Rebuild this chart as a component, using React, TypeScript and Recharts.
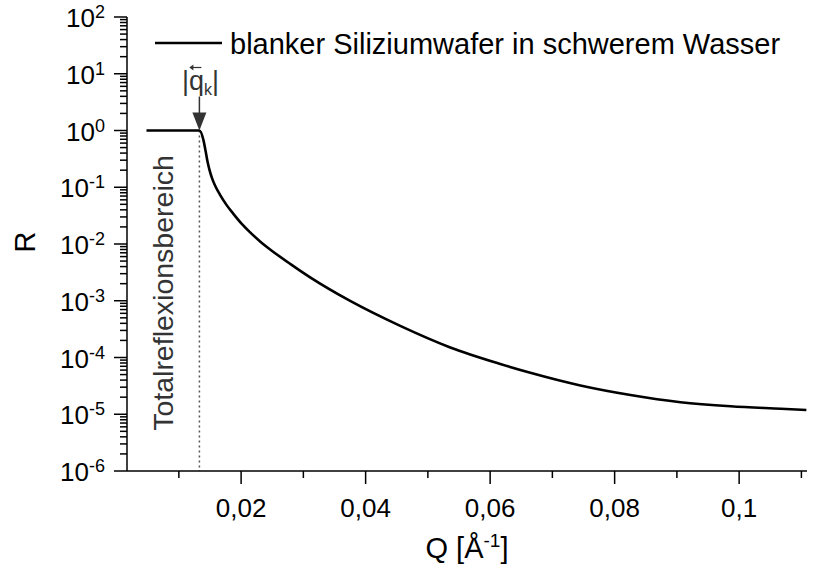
import React from 'react'
import { LineChart, Line, XAxis, YAxis, ReferenceLine, ReferenceDot, Customized } from 'recharts'

// reflectivity curve
const qValues = [
  0.0048, 0.0133, 0.01394, 0.01432, 0.01461, 0.01494, 0.01534, 0.01587, 0.01662, 0.01759,
  0.01876, 0.02011, 0.02145, 0.02305, 0.02466, 0.02788, 0.03109, 0.03752, 0.04556, 0.0536,
  0.06164, 0.06646, 0.0745, 0.08254, 0.09058, 0.09862, 0.1067, 0.1108,
]
const rValues = [
  1, 1, 0.685, 0.421, 0.281, 0.199, 0.1436, 0.1038, 0.0734, 0.0499,
  0.034, 0.0226, 0.016, 0.0111, 0.00803, 0.00446, 0.00258, 9.91e-4, 3.6e-4, 1.5e-4,
  7.67e-5, 5.37e-5, 3.21e-5, 2.18e-5, 1.63e-5, 1.38e-5, 1.25e-5, 1.19e-5,
]

const xMajorTicks = [0.02, 0.04, 0.06, 0.08, 0.1]
const xTickLabels = ['0,02', '0,04', '0,06', '0,08', '0,1']
const xMinorTicks = [0.01, 0.03, 0.05, 0.07, 0.09, 0.11]
const xDomain = [0.00167, 0.1109]

const yExponents = ['-6', '-5', '-4', '-3', '-2', '-1', '0', '1', '2']
const yMinorFactors = [2, 3, 4, 5, 6, 7, 8, 9]

const criticalQ = 0.0133
const legendLabel = 'blanker Siliziumwafer in schwerem Wasser'
const regionLabel = 'Totalreflexionsbereich'

const data = qValues.map((q, i) => ({ q, r: rValues[i] }))
const xTicks = [...xMajorTicks, ...xMinorTicks].sort((a, b) => a - b)
const yMajorTicks = yExponents.map(e => Number(`1e${e}`))
const yTicks = [
  ...yMajorTicks,
  ...yExponents.slice(0, -1).flatMap(e => yMinorFactors.map(f => Number(`${f}e${e}`))),
].sort((a, b) => a - b)

const FONT = '"Liberation Sans", Arial, sans-serif'
const MAJOR = 13
const MINOR = 7

const xMajorIndex = (v: number) => xMajorTicks.findIndex(t => Math.abs(t - v) < 1e-9)
const yMajorIndex = (v: number) => yMajorTicks.findIndex(t => Math.abs(Math.log10(t) - Math.log10(v)) < 1e-6)

function BottomTick({ x, y, payload }: any) {
  const i = xMajorIndex(payload.value)
  const len = i >= 0 ? MAJOR : MINOR
  return (
    <g>
      <line x1={x} x2={x} y1={y} y2={y + len} stroke="#000" strokeWidth={1.5} />
      {i >= 0 && (
        <text x={x} y={y + 46} textAnchor="middle" fontSize={26} fontFamily={FONT} fill="#000">
          {xTickLabels[i]}
        </text>
      )}
    </g>
  )
}

function TopTick({ x, y, payload }: any) {
  const len = xMajorIndex(payload.value) >= 0 ? MAJOR : MINOR
  return <line x1={x} x2={x} y1={y} y2={y - len} stroke="#000" strokeWidth={1.5} />
}

function LeftTick({ x, y, payload }: any) {
  const i = yMajorIndex(payload.value)
  const len = i >= 0 ? MAJOR : MINOR
  return (
    <g>
      <line x1={x - len} x2={x} y1={y} y2={y} stroke="#000" strokeWidth={1.5} />
      {i >= 0 && (
        <text x={x - 22} y={y + 10} textAnchor="end" fontSize={26} fontFamily={FONT} fill="#000">
          10
          <tspan fontSize={18} dy={-9}>{yExponents[i]}</tspan>
        </text>
      )}
    </g>
  )
}

function RightTick({ x, y, payload }: any) {
  const len = yMajorIndex(payload.value) >= 0 ? MAJOR : MINOR
  return <line x1={x} x2={x + len} y1={y} y2={y} stroke="#000" strokeWidth={1.5} />
}

function CriticalArrow({ cx, cy }: any) {
  return (
    <g fill="#333" stroke="#333">
      <line x1={cx} x2={cx} y1={cy - 34} y2={cy - 16} strokeWidth={1.5} />
      <path d={`M${cx - 7},${cy - 18} L${cx + 7},${cy - 18} L${cx},${cy} Z`} stroke="none" />
      <text x={cx + 1} y={cy - 41} textAnchor="middle" fontSize={27} fontFamily={FONT} stroke="none">
        |q<tspan fontSize={16} dy={5}>k</tspan>
        <tspan dy={-5}>|</tspan>
      </text>
      <line x1={cx - 9} x2={cx + 2} y1={cy - 63} y2={cy - 63} strokeWidth={1.2} />
      <path d={`M${cx - 10},${cy - 63} L${cx - 6},${cy - 66} L${cx - 6},${cy - 60} Z`} stroke="none" />
    </g>
  )
}

function RegionLabel({ cx, cy }: any) {
  return (
    <text
      x={cx}
      y={cy}
      transform={`rotate(-90 ${cx} ${cy})`}
      textAnchor="middle"
      fontSize={28.5}
      fontFamily={FONT}
      fill="#333"
    >
      {regionLabel}
    </text>
  )
}

function Decorations() {
  return (
    <g fontFamily={FONT} fill="#000">
      <line x1={155} x2={222} y1={43} y2={43} stroke="#000" strokeWidth={2.5} />
      <text x={230} y={54} fontSize={29}>{legendLabel}</text>
      <text x={467} y={558} textAnchor="middle" fontSize={29}>
        Q [Å<tspan fontSize={19} dy={-11}>-1</tspan>
        <tspan dy={11}>]</tspan>
      </text>
      <text x={35} y={242} transform="rotate(-90 35 242)" textAnchor="middle" fontSize={29}>
        R
      </text>
    </g>
  )
}

export default function App() {
  const axisLine = { stroke: '#000', strokeWidth: 1.5 }
  return (
    <div style={{ position: 'absolute', left: 0, top: 0, background: '#fff' }}>
      <LineChart width={814} height={565} data={data} margin={{ top: 17, right: 7, bottom: 0, left: 0 }}>
        <XAxis
          xAxisId="b"
          dataKey="q"
          type="number"
          domain={xDomain}
          allowDataOverflow
          ticks={xTicks}
          interval={0}
          height={94}
          tickSize={0}
          tickMargin={0}
          tickLine={false}
          axisLine={axisLine}
          tick={<BottomTick />}
        />
        <XAxis
          xAxisId="t"
          orientation="top"
          dataKey="q"
          type="number"
          domain={xDomain}
          allowDataOverflow
          ticks={xTicks}
          interval={0}
          height={0}
          tickSize={0}
          tickMargin={0}
          tickLine={false}
          axisLine={axisLine}
          tick={<TopTick />}
        />
        <YAxis
          yAxisId="l"
          dataKey="r"
          type="number"
          scale="log"
          domain={[1e-6, 100]}
          allowDataOverflow
          ticks={yTicks}
          interval={0}
          width={127}
          tickSize={0}
          tickMargin={0}
          tickLine={false}
          axisLine={axisLine}
          tick={<LeftTick />}
        />
        <YAxis
          yAxisId="r"
          orientation="right"
          dataKey="r"
          type="number"
          scale="log"
          domain={[1e-6, 100]}
          allowDataOverflow
          ticks={yTicks}
          interval={0}
          width={0}
          tickSize={0}
          tickMargin={0}
          tickLine={false}
          axisLine={axisLine}
          tick={<RightTick />}
        />
        <ReferenceLine
          xAxisId="b"
          yAxisId="l"
          segment={[{ x: criticalQ, y: 1 }, { x: criticalQ, y: 1e-6 }]}
          stroke="#555"
          strokeWidth={1.5}
          strokeDasharray="2 3"
        />
        <Line
          xAxisId="b"
          yAxisId="l"
          dataKey="r"
          type="monotone"
          stroke="#000"
          strokeWidth={2.6}
          dot={false}
          isAnimationActive={false}
        />
        <ReferenceDot xAxisId="b" yAxisId="l" x={criticalQ} y={1} r={0} shape={<CriticalArrow />} />
        <ReferenceDot xAxisId="b" yAxisId="l" x={0.00907} y={1.37e-3} r={0} shape={<RegionLabel />} />
        <Customized component={<Decorations />} />
      </LineChart>
    </div>
  )
}
